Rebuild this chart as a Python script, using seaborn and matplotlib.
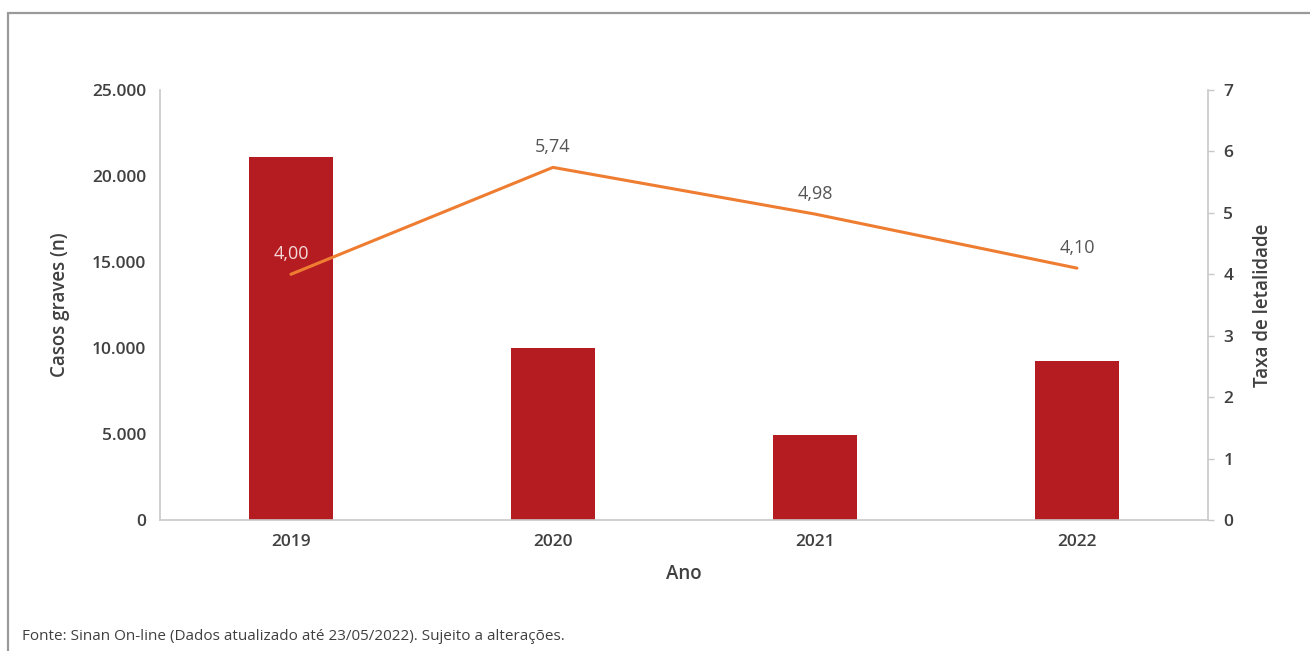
import matplotlib
matplotlib.use("Agg")
import matplotlib.pyplot as plt
from matplotlib.ticker import FuncFormatter, MultipleLocator
from matplotlib.lines import Line2D
import numpy as np
import pandas as pd
import seaborn as sns

# Dados: casos graves e taxa de letalidade por ano
anos = ["2019", "2020", "2021", "2022"]
casos_graves = [21100, 10000, 4950, 9270]
taxa_letalidade = [4.00, 5.74, 4.98, 4.10]
rotulos_taxa = ["4,00", "5,74", "4,98", "4,10"]
fonte = "Fonte: Sinan On-line (Dados atualizado até 23/05/2022). Sujeito a alterações."

sns.set_theme(style="white")
plt.rcParams["font.family"] = ["Open Sans", "DejaVu Sans"]

cor_barra = "#B51C22"
cor_linha = "#EE7D31"
cor_texto = "#404040"
cor_eixo = "#C8C8C8"

fig = plt.figure(figsize=(13.1, 6.51), dpi=100)
ax = fig.add_axes([0.1221, 0.2012, 0.8000, 0.6606])

df = pd.DataFrame({"Ano": anos, "Casos": casos_graves, "Taxa": taxa_letalidade})

sns.barplot(data=df, x="Ano", y="Casos", color=cor_barra, width=0.32,
            saturation=1, linewidth=0, ax=ax, zorder=2)
ax.set_xlim(-0.5, len(anos) - 0.5)
ax.set_ylim(0, 25000)
ax.yaxis.set_major_locator(MultipleLocator(5000))
ax.yaxis.set_major_formatter(FuncFormatter(lambda v, p: f"{int(v):,}".replace(",", ".")))
ax.set_xlabel("Ano", fontsize=13.5, color=cor_texto, labelpad=10, fontweight="semibold")
ax.set_ylabel("Casos graves (n)", fontsize=13.5, color=cor_texto, labelpad=16,
              fontweight="semibold")
ax.tick_params(axis="both", length=0, labelsize=12.5, colors=cor_texto, pad=10)
for lbl in ax.get_xticklabels() + ax.get_yticklabels():
    lbl.set_fontweight("semibold")
for lado in ["top", "right"]:
    ax.spines[lado].set_visible(False)
for lado in ["left", "bottom"]:
    ax.spines[lado].set_color(cor_eixo)
    ax.spines[lado].set_linewidth(1.2)

# Eixo secundário: taxa de letalidade
ax2 = ax.twinx()
pos = np.arange(len(anos))
sns.lineplot(x=pos, y=taxa_letalidade, ax=ax2, color=cor_linha, linewidth=2.2,
             zorder=3)
ax2.set_ylim(0, 7)
ax2.yaxis.set_major_locator(MultipleLocator(1))
ax2.set_ylabel("Taxa de letalidade", fontsize=13.5, color=cor_texto, labelpad=14,
               fontweight="semibold")
ax2.tick_params(axis="y", length=4, width=1, color=cor_eixo, labelsize=12.5,
                colors=cor_texto, pad=7)
ax2.tick_params(axis="y", color=cor_eixo)
for lbl in ax2.get_yticklabels():
    lbl.set_fontweight("semibold")
for lado in ["top", "left", "bottom"]:
    ax2.spines[lado].set_visible(False)
ax2.spines["right"].set_color(cor_eixo)
ax2.spines["right"].set_linewidth(1.2)
ax2.grid(False)
ax.grid(False)

# Rótulos de valor da taxa
for i, (v, txt) in enumerate(zip(taxa_letalidade, rotulos_taxa)):
    cor = "#F3D9D9" if i == 0 else "#555555"
    ax2.annotate(txt, (pos[i], v), xytext=(0, 8), textcoords="offset points",
                 ha="center", va="bottom", fontsize=13, color=cor)

# Moldura e nota de fonte
fig.add_artist(Line2D([8 / 1310, 8 / 1310], [0, 1 - 13 / 651],
                      transform=fig.transFigure, color="#9A9A9A", linewidth=1.6))
fig.add_artist(Line2D([8 / 1310, 1], [1 - 13 / 651, 1 - 13 / 651],
                      transform=fig.transFigure, color="#9A9A9A", linewidth=1.6))
fig.text(22 / 1310, 1 - 636 / 651, fonte, fontsize=11, color=cor_texto,
         ha="left", va="center",
         family=["Liberation Sans Narrow", "Open Sans", "DejaVu Sans"])

fig.savefig("out.png", dpi=100, facecolor="white")
